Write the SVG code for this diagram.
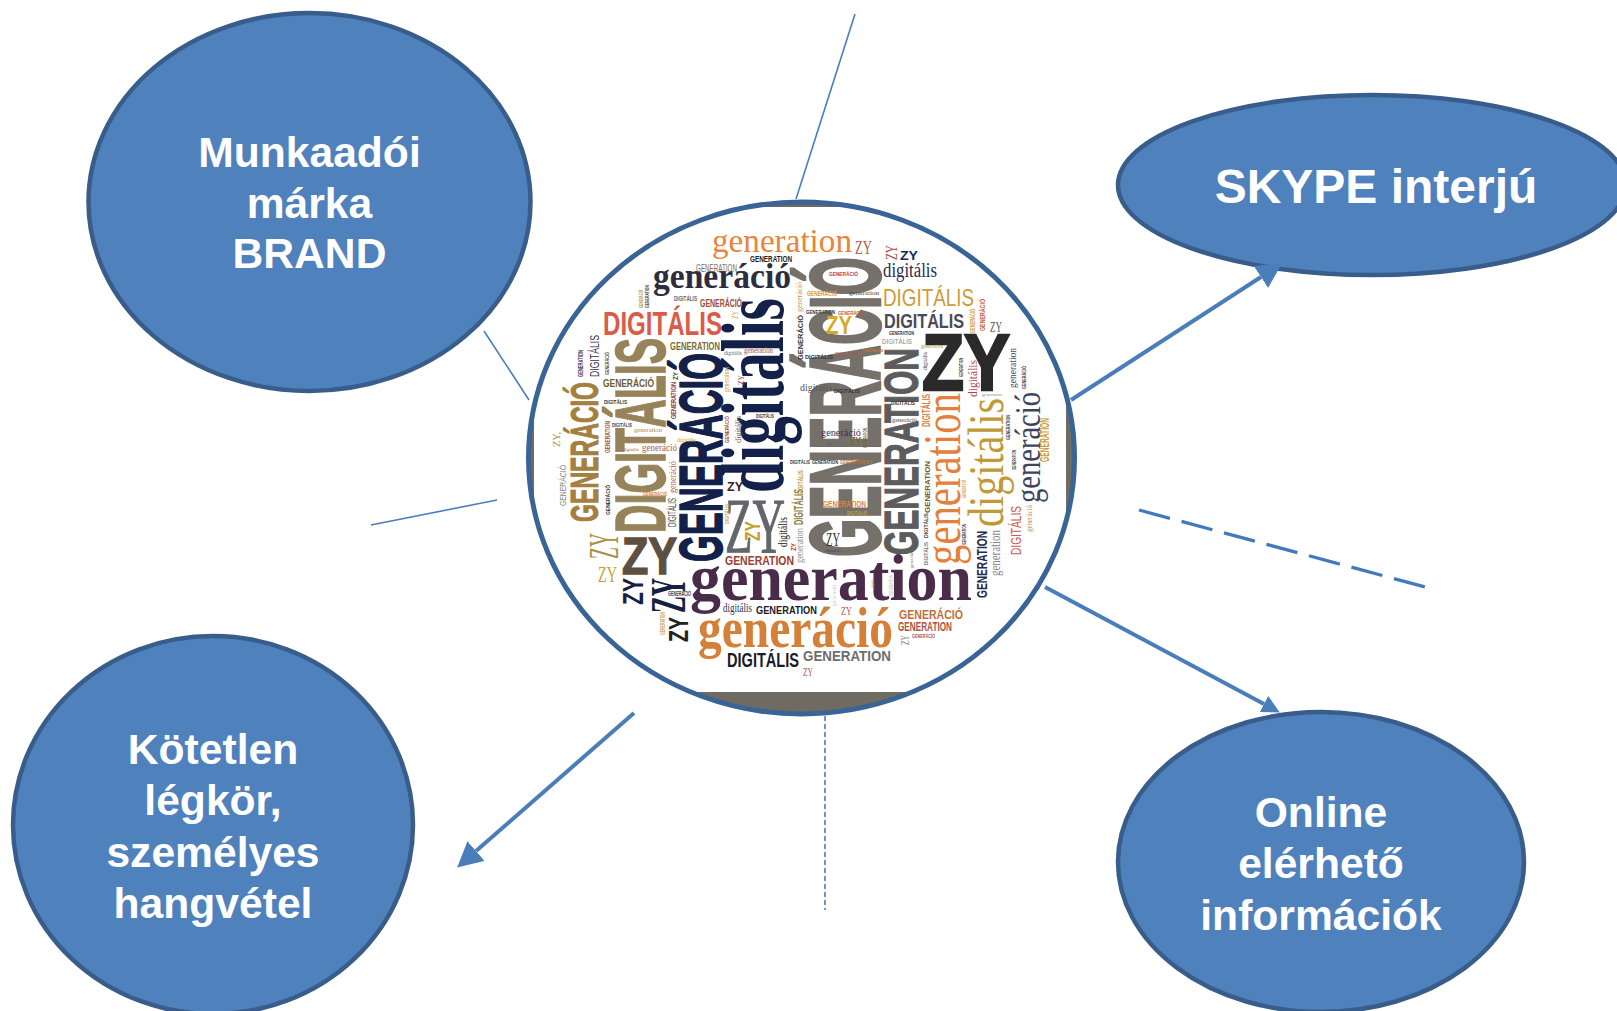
<svg xmlns="http://www.w3.org/2000/svg" width="1617" height="1011" viewBox="0 0 1617 1011">
<style>
.node{fill:#4f81bd;stroke:#385d8a;stroke-width:4.5}
.lbl{font-family:"Liberation Sans",Arial,sans-serif;font-weight:bold;fill:#fff;text-anchor:middle}
.thin{stroke:#4a7ebb;stroke-width:1.6;fill:none}
.thick{stroke:#4a7ebb;stroke-width:4;fill:none}
.dash{stroke:#4279bd;stroke-width:3.3;fill:none;stroke-dasharray:32 12}
.c{font-family:"Liberation Sans",Arial,sans-serif;font-weight:bold}
.s{font-family:"Liberation Serif","Times New Roman",serif}
.b{font-family:"Liberation Serif","Times New Roman",serif;font-weight:bold}
</style>
<defs>
<marker id="arrL" markerUnits="userSpaceOnUse" markerWidth="25" markerHeight="26" refX="0" refY="13" orient="auto"><path d="M0 0L25 13L0 26Z" fill="#4a7ebb"/></marker>
<marker id="arrS" markerUnits="userSpaceOnUse" markerWidth="18" markerHeight="18" refX="0" refY="9" orient="auto"><path d="M0 0L18 9L0 18Z" fill="#4a7ebb"/></marker>
<clipPath id="disc"><ellipse cx="801.5" cy="458" rx="273" ry="256"/></clipPath>
</defs>
<g id="node-brand">
<ellipse class="node" cx="309.5" cy="202" rx="221" ry="189"/>
<text class="lbl" font-size="42.6" x="309.5" y="167">Munkaadói</text>
<text class="lbl" font-size="42.6" x="309.5" y="218">márka</text>
<text class="lbl" font-size="42.6" x="309.5" y="268">BRAND</text>
</g>
<g id="node-skype">
<ellipse class="node" cx="1372" cy="185" rx="254" ry="90"/>
<text class="lbl" font-size="48" x="1376" y="203">SKYPE interjú</text>
</g>
<g id="node-legkor">
<ellipse class="node" cx="213" cy="825" rx="200" ry="189"/>
<text class="lbl" font-size="42.6" x="213" y="764">Kötetlen</text>
<text class="lbl" font-size="42.6" x="213" y="815">légkör,</text>
<text class="lbl" font-size="42.6" x="213" y="867">személyes</text>
<text class="lbl" font-size="42.6" x="213" y="918">hangvétel</text>
</g>
<g id="node-online">
<ellipse class="node" cx="1321" cy="862" rx="203" ry="150"/>
<text class="lbl" font-size="42.6" x="1321" y="827">Online</text>
<text class="lbl" font-size="42.6" x="1321" y="878">elérhető</text>
<text class="lbl" font-size="42.6" x="1321" y="930">információk</text>
</g>
<g id="node-center">
<ellipse cx="801.5" cy="458" rx="273" ry="256" fill="#6f6b62"/>
<rect x="534" y="207" width="532" height="485" fill="#fff" clip-path="url(#disc)"/>
<g>
<text class="c" transform="translate(880 557) rotate(-90)" font-size="100" fill="#75716a" stroke="#75716a" stroke-width="2.5" textLength="300" lengthAdjust="spacingAndGlyphs">GENERÁCIÓ</text>
<text class="c" transform="translate(918 555) rotate(-90)" font-size="48" fill="#5c5c5c" stroke="#5c5c5c" stroke-width="1.2" textLength="207" lengthAdjust="spacingAndGlyphs">GENERATION</text>
<text class="b" transform="translate(783 493) rotate(-90)" font-size="88" fill="#12204a" textLength="195" lengthAdjust="spacingAndGlyphs">digitális</text>
<text class="c" transform="translate(722 562) rotate(-90)" font-size="61" fill="#12204a" stroke="#12204a" stroke-width="1.5" textLength="209" lengthAdjust="spacingAndGlyphs">GENERÁCIÓ</text>
<text class="c" transform="translate(665 533) rotate(-90)" font-size="70" fill="#97835a" stroke="#97835a" stroke-width="1.5" textLength="195" lengthAdjust="spacingAndGlyphs">DIGITÁLIS</text>
<text class="c" transform="translate(598 522) rotate(-90)" font-size="38" fill="#a3803f" stroke="#a3803f" stroke-width="1" textLength="140" lengthAdjust="spacingAndGlyphs">GENERÁCIÓ</text>
<text class="s" transform="translate(960 565) rotate(-90)" font-size="52" fill="#e4803c" textLength="172" lengthAdjust="spacingAndGlyphs">generation</text>
<text class="s" transform="translate(1003 527) rotate(-90)" font-size="50" fill="#c09a38" textLength="129" lengthAdjust="spacingAndGlyphs">digitális</text>
<text class="s" transform="translate(1040 503) rotate(-90)" font-size="36" fill="#3c4560" textLength="111" lengthAdjust="spacingAndGlyphs">generáció</text>
<text class="c" transform="translate(1049 462) rotate(-90)" font-size="12" fill="#c89a38" textLength="44" lengthAdjust="spacingAndGlyphs">GENERATION</text>
<text class="s" x="712" y="252" font-size="34" fill="#e8843c" textLength="140" lengthAdjust="spacingAndGlyphs">generation</text>
<text class="s" x="855" y="254" font-size="18" fill="#b85a4a" textLength="17" lengthAdjust="spacingAndGlyphs">ZY</text>
<text class="s" transform="translate(897 260) rotate(-90)" font-size="17" fill="#a84a3c" textLength="15" lengthAdjust="spacingAndGlyphs">ZY</text>
<text class="c" x="900" y="260" font-size="12" fill="#1c2a55" textLength="18" lengthAdjust="spacingAndGlyphs">ZY</text>
<text class="s" x="883" y="277" font-size="20" fill="#2d2a50" textLength="54" lengthAdjust="spacingAndGlyphs">digitális</text>
<text class="c" x="883" y="306" font-size="24" fill="#d09a38" textLength="91" lengthAdjust="spacingAndGlyphs" style="font-weight:normal">DIGITÁLIS</text>
<text class="c" x="884" y="328" font-size="21" fill="#4a4a58" textLength="80" lengthAdjust="spacingAndGlyphs">DIGITÁLIS</text>
<text class="c" x="922" y="390" font-size="80" fill="#2a2a2a" stroke="#2a2a2a" stroke-width="2.5" textLength="88" lengthAdjust="spacingAndGlyphs">ZY</text>
<text class="c" x="603" y="335" font-size="33" fill="#dc5a48" textLength="119" lengthAdjust="spacingAndGlyphs">DIGITÁLIS</text>
<text class="b" x="653" y="288" font-size="36" fill="#2e2d3f" textLength="138" lengthAdjust="spacingAndGlyphs">generáció</text>
<text class="b" x="690" y="600" font-size="66" fill="#4a2c4a" textLength="282" lengthAdjust="spacingAndGlyphs">generation</text>
<text class="b" x="698" y="647" font-size="58" fill="#d58038" textLength="195" lengthAdjust="spacingAndGlyphs">generáció</text>
<text class="s" x="725" y="552" font-size="78" fill="#63666b" stroke="#63666b" stroke-width="1" textLength="60" lengthAdjust="spacingAndGlyphs">ZY</text>
<text class="c" x="727" y="667" font-size="20" fill="#1a1a2a" textLength="72" lengthAdjust="spacingAndGlyphs">DIGITÁLIS</text>
<text class="c" x="803" y="661" font-size="15" fill="#6d6d6d" textLength="88" lengthAdjust="spacingAndGlyphs">GENERATION</text>
<text class="s" x="803" y="676" font-size="13" fill="#a55" textLength="10" lengthAdjust="spacingAndGlyphs">ZY</text>
<text class="c" x="756" y="614" font-size="11" fill="#1a1a2a" textLength="61" lengthAdjust="spacingAndGlyphs">GENERATION</text>
<text class="s" x="723" y="612" font-size="12" fill="#2a3060" textLength="29" lengthAdjust="spacingAndGlyphs">digitális</text>
<text class="c" x="725" y="565" font-size="13" fill="#9a4030" textLength="69" lengthAdjust="spacingAndGlyphs">GENERATION</text>
<text class="c" x="899" y="619" font-size="13" fill="#c07038" textLength="64" lengthAdjust="spacingAndGlyphs">GENERÁCIÓ</text>
<text class="c" x="898" y="631" font-size="12" fill="#b05040" textLength="54" lengthAdjust="spacingAndGlyphs">GENERATION</text>
<text class="c" x="912" y="638" font-size="6" fill="#b05050" textLength="23" lengthAdjust="spacingAndGlyphs">GENERÁCIÓ</text>
<text class="s" transform="translate(909 645) rotate(-90)" font-size="13" fill="#888" textLength="10" lengthAdjust="spacingAndGlyphs">ZY</text>
<text class="c" transform="translate(987 598) rotate(-90)" font-size="14" fill="#1e2a50" textLength="67" lengthAdjust="spacingAndGlyphs">GENERATION</text>
<text class="s" transform="translate(1000 576) rotate(-90)" font-size="14" fill="#888" textLength="46" lengthAdjust="spacingAndGlyphs">generation</text>
<text class="c" transform="translate(1021 555) rotate(-90)" font-size="15" fill="#cc5a50" textLength="49" lengthAdjust="spacingAndGlyphs" style="font-weight:normal">DIGITÁLIS</text>
<text class="s" transform="translate(1032 532) rotate(-90)" font-size="9" fill="#c09050" textLength="27" lengthAdjust="spacingAndGlyphs">generáció</text>
<text class="c" x="622" y="574" font-size="52" fill="#5e5040" stroke="#5e5040" stroke-width="1.5" textLength="55" lengthAdjust="spacingAndGlyphs">ZY</text>
<text class="s" transform="translate(618 559) rotate(-90)" font-size="43" fill="#a89048" textLength="26" lengthAdjust="spacingAndGlyphs">ZY</text>
<text class="s" x="598" y="582" font-size="24" fill="#cda040" textLength="19" lengthAdjust="spacingAndGlyphs">ZY</text>
<text class="c" transform="translate(643 605) rotate(-90)" font-size="30" fill="#162040" textLength="27" lengthAdjust="spacingAndGlyphs">ZY</text>
<text class="s" transform="translate(685 613) rotate(-90)" font-size="50" fill="#162040" textLength="35" lengthAdjust="spacingAndGlyphs" style="font-weight:bold">ZY</text>
<text class="c" transform="translate(688 642) rotate(-90)" font-size="28" fill="#222" textLength="25" lengthAdjust="spacingAndGlyphs">ZY</text>
<text class="c" x="668" y="596" font-size="6.5" fill="#444" textLength="23" lengthAdjust="spacingAndGlyphs">GENERÁCIÓ</text>
<text class="c" transform="translate(665 635) rotate(-90)" font-size="7" fill="#d0a060" textLength="23" lengthAdjust="spacingAndGlyphs">GENERATION</text>
<text class="c" x="727" y="491" font-size="13" fill="#3a2020" textLength="16" lengthAdjust="spacingAndGlyphs">ZY</text>
<text class="c" transform="translate(760 541) rotate(-90)" font-size="22" fill="#c8a030" textLength="20" lengthAdjust="spacingAndGlyphs">ZY</text>
<text class="c" transform="translate(566 506) rotate(-90)" font-size="9" fill="#888" textLength="41" lengthAdjust="spacingAndGlyphs" style="font-weight:normal">GENERÁCIÓ</text>
<text class="c" transform="translate(610 515) rotate(-90)" font-size="6" fill="#333" textLength="30" lengthAdjust="spacingAndGlyphs">GENERÁCIÓ</text>
<text class="s" transform="translate(676 493) rotate(-90)" font-size="10" fill="#b05a48" textLength="32" lengthAdjust="spacingAndGlyphs">generáció</text>
<text class="c" x="643" y="496" font-size="6" fill="#d08040" textLength="24" lengthAdjust="spacingAndGlyphs">GENERÁCIÓ</text>
<text class="c" transform="translate(676 527) rotate(-90)" font-size="10" fill="#444" textLength="29" lengthAdjust="spacingAndGlyphs" style="font-weight:normal">DIGITÁLIS</text>
<text class="c" transform="translate(803 525) rotate(-90)" font-size="12" fill="#8c7c40" textLength="36" lengthAdjust="spacingAndGlyphs">DIGITÁLIS</text>
<text class="c" transform="translate(803 495) rotate(-90)" font-size="8" fill="#c09a40" textLength="25" lengthAdjust="spacingAndGlyphs">DIGITÁLIS</text>
<text class="s" transform="translate(787 547) rotate(-90)" font-size="12" fill="#222" textLength="30" lengthAdjust="spacingAndGlyphs">digitális</text>
<text class="s" transform="translate(803 563) rotate(-90)" font-size="10" fill="#888" textLength="35" lengthAdjust="spacingAndGlyphs">generation</text>
<text class="c" transform="translate(729 524) rotate(-90)" font-size="6" fill="#d0a040" textLength="20" lengthAdjust="spacingAndGlyphs">DIGITÁLIS</text>
<text class="c" transform="translate(796 551) rotate(-90)" font-size="8" fill="#b03a30" textLength="8" lengthAdjust="spacingAndGlyphs">ZY</text>
<text class="c" x="696" y="272" font-size="11" fill="#7a706a" textLength="41" lengthAdjust="spacingAndGlyphs" style="font-weight:normal">GENERATION</text>
<text class="c" x="750" y="262" font-size="9" fill="#222" textLength="42" lengthAdjust="spacingAndGlyphs">GENERATION</text>
<text class="c" x="674" y="301" font-size="7" fill="#666" textLength="23" lengthAdjust="spacingAndGlyphs">DIGITÁLIS</text>
<text class="c" x="700" y="307" font-size="10" fill="#a04a3a" textLength="42" lengthAdjust="spacingAndGlyphs">GENERÁCIÓ</text>
<text class="c" transform="translate(643 308) rotate(-90)" font-size="6" fill="#b09040" textLength="18" lengthAdjust="spacingAndGlyphs">GENERÁCIÓ</text>
<text class="c" transform="translate(649 308) rotate(-90)" font-size="6" fill="#444" textLength="23" lengthAdjust="spacingAndGlyphs">GENERATION</text>
<text class="s" transform="translate(738 319) rotate(-90)" font-size="8" fill="#c89a38" textLength="8" lengthAdjust="spacingAndGlyphs">ZY</text>
<text class="c" x="670" y="350" font-size="10" fill="#7c6a30" textLength="50" lengthAdjust="spacingAndGlyphs">GENERATION</text>
<text class="c" x="603" y="387" font-size="11" fill="#6c5c30" textLength="51" lengthAdjust="spacingAndGlyphs">GENERÁCIÓ</text>
<text class="c" transform="translate(583 377) rotate(-90)" font-size="7" fill="#3a3050" textLength="27" lengthAdjust="spacingAndGlyphs">GENERATION</text>
<text class="c" transform="translate(599 377) rotate(-90)" font-size="13" fill="#3a3050" textLength="42" lengthAdjust="spacingAndGlyphs" style="font-weight:normal">DIGITÁLIS</text>
<text class="c" transform="translate(609 375) rotate(-90)" font-size="6" fill="#555" textLength="23" lengthAdjust="spacingAndGlyphs">GENERÁCIÓ</text>
<text class="c" x="604" y="404" font-size="6" fill="#333" textLength="23" lengthAdjust="spacingAndGlyphs">DIGITÁLIS</text>
<text class="s" transform="translate(560 447) rotate(-90)" font-size="11" fill="#a88a48" textLength="15" lengthAdjust="spacingAndGlyphs">ZY,</text>
<text class="c" x="829" y="276" font-size="6" fill="#b84040" textLength="29" lengthAdjust="spacingAndGlyphs">GENERÁCIÓ</text>
<text class="c" x="807" y="296" font-size="6.5" fill="#d89a40" textLength="30" lengthAdjust="spacingAndGlyphs">GENERÁCIÓ</text>
<text class="s" x="849" y="295" font-size="7" fill="#444" textLength="30" lengthAdjust="spacingAndGlyphs">generation</text>
<text class="c" x="806" y="314" font-size="6" fill="#333" textLength="29" lengthAdjust="spacingAndGlyphs">GENERATION</text>
<text class="c" x="838" y="315" font-size="5.5" fill="#c06030" textLength="26" lengthAdjust="spacingAndGlyphs">GENERÁCIÓ</text>
<text class="c" x="826" y="334" font-size="25" fill="#d8a828" textLength="26" lengthAdjust="spacingAndGlyphs">ZY</text>
<text class="c" x="805" y="359" font-size="6" fill="#333" textLength="28" lengthAdjust="spacingAndGlyphs">DIGITÁLIS</text>
<text class="s" x="835" y="355" font-size="6" fill="#b85050" textLength="25" lengthAdjust="spacingAndGlyphs">generation</text>
<text class="c" x="862" y="352" font-size="4" fill="#c07040" textLength="21" lengthAdjust="spacingAndGlyphs">GENERATION</text>
<text class="s" x="800" y="391" font-size="11" fill="#555" textLength="32" lengthAdjust="spacingAndGlyphs">digitális</text>
<text class="c" x="834" y="393" font-size="6" fill="#333" textLength="26" lengthAdjust="spacingAndGlyphs">DIGITÁLIS</text>
<text class="s" x="821" y="436" font-size="11" fill="#3a3050" textLength="40" lengthAdjust="spacingAndGlyphs">generáció</text>
<text class="s" x="826" y="447" font-size="6" fill="#555" textLength="6" lengthAdjust="spacingAndGlyphs">ZY</text>
<text class="c" x="850" y="445" font-size="10" fill="#7a6a30" textLength="11" lengthAdjust="spacingAndGlyphs">ZY</text>
<text class="c" transform="translate(867 448) rotate(-90)" font-size="5" fill="#7a6a30" textLength="20" lengthAdjust="spacingAndGlyphs">GENERATION</text>
<text class="s" x="892" y="422" font-size="7" fill="#444" textLength="25" lengthAdjust="spacingAndGlyphs">generáció</text>
<text class="c" x="891" y="405" font-size="6" fill="#333" textLength="24" lengthAdjust="spacingAndGlyphs">DIGITÁLIS</text>
<text class="c" transform="translate(930 427) rotate(-90)" font-size="10" fill="#d88040" textLength="33" lengthAdjust="spacingAndGlyphs">DIGITÁLIS</text>
<text class="s" transform="translate(927 370) rotate(-90)" font-size="7" fill="#444" textLength="18" lengthAdjust="spacingAndGlyphs">digitális</text>
<text class="s" x="921" y="348" font-size="6" fill="#b09040" textLength="22" lengthAdjust="spacingAndGlyphs">generation</text>
<text class="c" x="889" y="335" font-size="5.5" fill="#333" textLength="25" lengthAdjust="spacingAndGlyphs">GENERATION</text>
<text class="c" x="882" y="344" font-size="8" fill="#888" textLength="30" lengthAdjust="spacingAndGlyphs" style="font-weight:normal">DIGITÁLIS</text>
<text class="s" transform="translate(977 397) rotate(-90)" font-size="13" fill="#b04a50" textLength="37" lengthAdjust="spacingAndGlyphs">digitális</text>
<text class="s" x="982" y="396" font-size="4" fill="#888" textLength="20" lengthAdjust="spacingAndGlyphs">generation</text>
<text class="s" transform="translate(1016 388) rotate(-90)" font-size="10" fill="#3a4560" textLength="40" lengthAdjust="spacingAndGlyphs">generation</text>
<text class="c" transform="translate(1026 389) rotate(-90)" font-size="6" fill="#444" textLength="23" lengthAdjust="spacingAndGlyphs">GENERÁCIÓ</text>
<text class="c" transform="translate(963 377) rotate(-90)" font-size="5" fill="#333" textLength="19" lengthAdjust="spacingAndGlyphs">GENERATION</text>
<text class="c" transform="translate(985 331) rotate(-90)" font-size="8" fill="#c85a40" textLength="32" lengthAdjust="spacingAndGlyphs">GENERÁCIÓ</text>
<text class="c" transform="translate(975 333) rotate(-90)" font-size="7" fill="#d09a38" textLength="24" lengthAdjust="spacingAndGlyphs">GENERÁCIÓ</text>
<text class="s" x="990" y="332" font-size="14" fill="#555" textLength="12" lengthAdjust="spacingAndGlyphs">ZY</text>
<text class="c" transform="translate(1010 440) rotate(-90)" font-size="6" fill="#444" textLength="25" lengthAdjust="spacingAndGlyphs">GENERATION</text>
<text class="s" transform="translate(802 312) rotate(-90)" font-size="8" fill="#c89a38" textLength="30" lengthAdjust="spacingAndGlyphs">generáció</text>
<text class="c" transform="translate(803 360) rotate(-90)" font-size="8" fill="#333" textLength="45" lengthAdjust="spacingAndGlyphs">GENERÁCIÓ</text>
<text class="s" transform="translate(729 392) rotate(-90)" font-size="8" fill="#c8a050" textLength="25" lengthAdjust="spacingAndGlyphs">generation</text>
<text class="c" transform="translate(676 419) rotate(-90)" font-size="8" fill="#8a3a3a" textLength="37" lengthAdjust="spacingAndGlyphs">GENERATION</text>
<text class="c" transform="translate(678 380) rotate(-90)" font-size="8" fill="#444" textLength="8" lengthAdjust="spacingAndGlyphs">ZY</text>
<text class="c" transform="translate(729 443) rotate(-90)" font-size="6" fill="#a05030" textLength="27" lengthAdjust="spacingAndGlyphs">GENERÁCIÓ</text>
<text class="s" transform="translate(741 443) rotate(-90)" font-size="9" fill="#555" textLength="27" lengthAdjust="spacingAndGlyphs">digitális</text>
<text class="s" transform="translate(744 385) rotate(-90)" font-size="9" fill="#a04a3a" textLength="10" lengthAdjust="spacingAndGlyphs">ZY</text>
<text class="c" x="612" y="427" font-size="5" fill="#444" textLength="20" lengthAdjust="spacingAndGlyphs">DIGITÁLIS</text>
<text class="s" x="634" y="432" font-size="7" fill="#a08a40" textLength="28" lengthAdjust="spacingAndGlyphs">generation</text>
<text class="c" transform="translate(610 453) rotate(-90)" font-size="7" fill="#a06040" textLength="32" lengthAdjust="spacingAndGlyphs">GENERATION</text>
<text class="s" x="642" y="451" font-size="11" fill="#a85a50" textLength="35" lengthAdjust="spacingAndGlyphs">generáció</text>
<text class="s" x="623" y="451" font-size="5" fill="#a85a50" textLength="16" lengthAdjust="spacingAndGlyphs">digitális</text>
<text class="s" x="677" y="442" font-size="6" fill="#c8a040" textLength="19" lengthAdjust="spacingAndGlyphs">digitális</text>
<text class="s" x="724" y="355" font-size="6" fill="#666" textLength="18" lengthAdjust="spacingAndGlyphs">digitális</text>
<text class="s" x="744" y="353" font-size="8" fill="#a05050" textLength="29" lengthAdjust="spacingAndGlyphs">generation</text>
<text class="c" x="756" y="418" font-size="5" fill="#333" textLength="18" lengthAdjust="spacingAndGlyphs">DIGITÁLIS</text>
<text class="c" x="790" y="464" font-size="6" fill="#333" textLength="20" lengthAdjust="spacingAndGlyphs">DIGITÁLIS</text>
<text class="c" x="812" y="464" font-size="5" fill="#333" textLength="26" lengthAdjust="spacingAndGlyphs">GENERATION</text>
<text class="c" x="840" y="464" font-size="5" fill="#c07040" textLength="25" lengthAdjust="spacingAndGlyphs">GENERATION</text>
<text class="s" x="866" y="464" font-size="7" fill="#b09030" textLength="7" lengthAdjust="spacingAndGlyphs">ZY</text>
<text class="c" transform="translate(930 513) rotate(-90)" font-size="8" fill="#6c6030" textLength="52" lengthAdjust="spacingAndGlyphs">GENERATION</text>
<text class="c" transform="translate(928 538) rotate(-90)" font-size="6" fill="#4a3a30" textLength="25" lengthAdjust="spacingAndGlyphs">DIGITÁLIS</text>
<text class="c" transform="translate(928 565) rotate(-90)" font-size="6" fill="#777" textLength="23" lengthAdjust="spacingAndGlyphs">DIGITÁLIS</text>
<text class="s" transform="translate(913 568) rotate(-90)" font-size="5" fill="#666" textLength="20" lengthAdjust="spacingAndGlyphs">generáció</text>
<text class="c" x="823" y="507" font-size="9" fill="#e0843c" textLength="43" lengthAdjust="spacingAndGlyphs">GENERATION</text>
<text class="c" x="847" y="515" font-size="5" fill="#c8a030" textLength="20" lengthAdjust="spacingAndGlyphs">DIGITÁLIS</text>
<text class="s" transform="translate(874 588) rotate(-90)" font-size="4" fill="#a89048" textLength="9" lengthAdjust="spacingAndGlyphs">digitális</text>
<text class="c" transform="translate(893 596) rotate(-90)" font-size="5" fill="#ccc" textLength="21" lengthAdjust="spacingAndGlyphs">GENERATION</text>
<text class="s" transform="translate(836 606) rotate(-90)" font-size="6" fill="#ccc" textLength="21" lengthAdjust="spacingAndGlyphs">generáció</text>
<text class="s" x="823" y="610" font-size="7" fill="#888" textLength="7" lengthAdjust="spacingAndGlyphs">ZY</text>
<text class="s" x="841" y="615" font-size="13" fill="#b05040" textLength="11" lengthAdjust="spacingAndGlyphs">ZY</text>
<text class="c" transform="translate(966 545) rotate(-90)" font-size="5" fill="#333" textLength="21" lengthAdjust="spacingAndGlyphs">GENERATION</text>
<text class="c" transform="translate(966 498) rotate(-90)" font-size="5" fill="#d8a040" textLength="18" lengthAdjust="spacingAndGlyphs">GENERÁCIÓ</text>
<text class="s" x="826" y="546" font-size="18" fill="#333" textLength="14" lengthAdjust="spacingAndGlyphs">ZY</text>
<text class="s" x="825" y="552" font-size="4.5" fill="#3a4a80" textLength="16" lengthAdjust="spacingAndGlyphs">digitális</text>
<text class="c" transform="translate(1016 470) rotate(-90)" font-size="6" fill="#444" textLength="20" lengthAdjust="spacingAndGlyphs">GENERATION</text>
</g>
<ellipse cx="801.5" cy="458" rx="273" ry="256" fill="none" stroke="#3a6496" stroke-width="5"/>
</g>
<g id="connectors">
<line class="thin" x1="855" y1="14" x2="796" y2="199"/>
<line class="thin" x1="484" y1="331" x2="529" y2="400"/>
<line class="thin" x1="371" y1="525" x2="497" y2="500"/>
<line class="thick" x1="1071" y1="400" x2="1261" y2="277" marker-end="url(#arrL)"/>
<line class="thick" x1="1045" y1="587" x2="1264" y2="704" marker-end="url(#arrS)"/>
<line class="thick" x1="634" y1="713" x2="476" y2="851" marker-end="url(#arrL)"/>
<line class="dash" x1="1139" y1="510" x2="1425" y2="587"/>
<line class="thin" x1="825" y1="716" x2="825" y2="910" stroke-dasharray="5 3"/>
</g>
</svg>
